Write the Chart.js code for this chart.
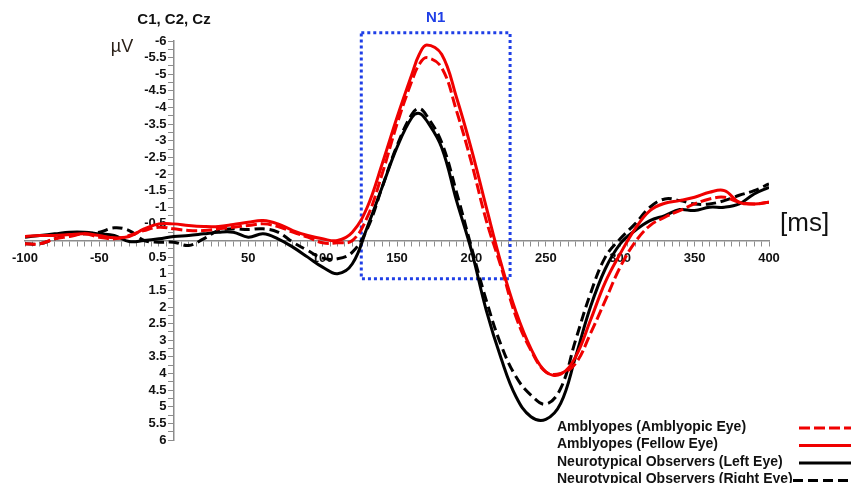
<!DOCTYPE html>
<html>
<head>
<meta charset="utf-8">
<script src="https://cdn.jsdelivr.net/npm/chart.js@4.4.1/dist/chart.umd.min.js"></script>
<style>
  html, body { margin: 0; padding: 0; background: #fff; overflow: hidden; }
</style>
</head>
<body>
<canvas id="erp" width="851" height="483"></canvas>
<script>
// time axis in ms (extra point at 165 for the N1 peak)
const times = [
  -100, -90, -80, -70, -60, -50, -40, -30, -20, -10,
  0, 10, 20, 30, 40, 50, 60, 70, 80, 90,
  100, 110, 120, 130, 140, 150, 160, 165, 170, 180, 190,
  200, 210, 220, 230, 240, 250, 260, 270, 280, 290,
  300, 310, 320, 330, 340, 350, 360, 370, 380, 390, 400
];

// amplitudes in µV (negative plotted up)
const amblyopicEye = [
  0.1, 0.1, -0.05, -0.12, -0.2, -0.1, -0.05, -0.15, -0.3, -0.4,
  -0.35, -0.3, -0.3, -0.35, -0.4, -0.45, -0.5, -0.42, -0.25, -0.1,
  0.07, 0.07, 0.0, -0.7, -2.0, -3.5, -4.8, -5.3, -5.5, -5.2, -3.9,
  -2.35, -0.6, 0.8, 2.3, 3.3, 3.95, 4.0, 3.7, 2.8, 1.8,
  0.8, 0.05, -0.45, -0.7, -0.9, -1.1, -1.25, -1.3, -1.15, -1.1, -1.15
];
const fellowEye = [
  -0.12, -0.15, -0.15, -0.18, -0.2, -0.15, -0.08, -0.12, -0.35, -0.5,
  -0.5, -0.45, -0.42, -0.42, -0.48, -0.55, -0.6, -0.5, -0.3, -0.15,
  -0.05, 0.0, -0.25, -1.0, -2.3, -3.7, -5.0, -5.6, -5.88, -5.6, -4.3,
  -2.75, -1.0, 0.7, 2.15, 3.25, 3.95, 4.02, 3.5, 2.4, 1.25,
  0.4, -0.35, -0.9, -1.12, -1.2, -1.3, -1.45, -1.5, -1.15, -1.1, -1.15
];
const leftEye = [
  -0.1, -0.15, -0.2, -0.25, -0.25, -0.2, -0.15, 0.03, 0.0, -0.05,
  -0.12, -0.15, -0.2, -0.25, -0.25, -0.1, -0.2, -0.05, 0.2, 0.5,
  0.8, 1.0, 0.7, -0.4, -1.6, -2.8, -3.7, -3.82, -3.6, -2.8, -1.2,
  0.3, 2.1, 3.55, 4.7, 5.3, 5.38, 4.9, 3.5, 2.0, 0.85,
  0.1, -0.3, -0.6, -0.75, -0.93, -0.9, -1.0, -1.0, -1.1, -1.4, -1.6
];
const rightEye = [
  0.1, 0.1, -0.05, -0.2, -0.2, -0.25, -0.38, -0.3, 0.0, 0.05,
  0.05, 0.15, -0.05, -0.3, -0.35, -0.33, -0.35, -0.25, 0.05, 0.3,
  0.53, 0.55, 0.35, -0.35, -1.6, -2.85, -3.8, -3.97, -3.75, -2.95, -1.45,
  0.2, 1.8, 3.15, 4.1, 4.65, 4.92, 4.45, 3.0, 1.6, 0.5,
  -0.05, -0.5, -1.0, -1.25, -1.2, -1.1, -1.1, -1.2, -1.36, -1.5, -1.7
];

const seriesLabels = [
  'Amblyopes (Amblyopic Eye)',
  'Amblyopes (Fellow Eye)',
  'Neurotypical Observers (Left Eye)',
  'Neurotypical Observers (Right Eye)'
];

// N1 window (ms) and amplitude span (µV) of the dotted box
const n1Window = [126, 226];
const n1Span = [-6.25, 1.15];

const FONT = "'Liberation Sans', Arial, Helvetica, sans-serif";
const RED = '#f00000';

const toPoints = vals => vals.map((v, i) => ({ x: times[i], y: v }));

const lineDs = (label, vals, color, dash) => ({
  label,
  data: toPoints(vals),
  borderColor: color,
  borderWidth: 3,
  borderDash: dash,
  pointRadius: 0,
  tension: 0.4,
  fill: false
});

const overlay = {
  id: 'overlay',
  beforeDatasetsDraw(chart) {
    const { ctx, scales: { x, y } } = chart;
    const l = x.getPixelForValue(n1Window[0]), r = x.getPixelForValue(n1Window[1]);
    const t = y.getPixelForValue(n1Span[0]), b = y.getPixelForValue(n1Span[1]);
    ctx.save();
    ctx.strokeStyle = '#1f3fe6';
    ctx.lineWidth = 3;
    ctx.setLineDash([3, 3]);
    ctx.strokeRect(l, t, r - l, b - t);
    ctx.restore();
  },
  afterDraw(chart) {
    const { ctx, scales: { x } } = chart;
    ctx.save();
    ctx.textBaseline = 'middle';

    ctx.fillStyle = '#111';
    ctx.textAlign = 'center';
    ctx.font = 'bold 15px ' + FONT;
    ctx.fillText('C1, C2, Cz', 174, 20);

    ctx.fillStyle = '#1f3fe6';
    ctx.fillText('N1', x.getPixelForValue((n1Window[0] + n1Window[1]) / 2), 18);

    ctx.fillStyle = '#2a2018';
    ctx.font = '18px ' + FONT;
    ctx.fillText('µV', 122, 47);

    ctx.fillStyle = '#111';
    ctx.textAlign = 'left';
    ctx.font = '26px ' + FONT;
    ctx.fillText('[ms]', 780, 224);

    // legend, bottom right
    ctx.font = 'bold 14px ' + FONT;
    chart.data.datasets.forEach((ds, i) => {
      const yy = 427 + i * 17.5;
      ctx.fillStyle = '#111';
      ctx.fillText(ds.label, 557, yy);
      ctx.strokeStyle = ds.borderColor;
      ctx.lineWidth = 3;
      ctx.setLineDash(ds.borderDash || []);
      ctx.beginPath();
      ctx.moveTo(i === 3 ? 793 : 799, yy + 1);
      ctx.lineTo(851, yy + 1);
      ctx.stroke();
    });
    ctx.restore();
  }
};

new Chart(document.getElementById('erp'), {
  type: 'line',
  data: {
    datasets: [
      lineDs(seriesLabels[0], amblyopicEye, RED, [11, 4]),
      lineDs(seriesLabels[1], fellowEye, RED, []),
      lineDs(seriesLabels[2], leftEye, '#000', []),
      lineDs(seriesLabels[3], rightEye, '#000', [10, 5])
    ]
  },
  options: {
    responsive: false,
    animation: false,
    layout: { padding: { left: 25, right: 82, top: 41, bottom: 43 } },
    plugins: { legend: { display: false }, tooltip: { enabled: false } },
    scales: {
      x: {
        type: 'linear',
        min: -100,
        max: 400,
        position: { y: 0 },
        ticks: {
          stepSize: 5,
          autoSkip: false,
          maxRotation: 0,
          padding: 5,
          color: '#111',
          font: { family: FONT, size: 13, weight: 'bold' },
          callback: v => (v % 50 === 0 && v !== 0) ? String(v) : ''
        },
        grid: { drawOnChartArea: false, drawTicks: true, tickLength: 5, color: '#8c8c8c', lineWidth: 1 },
        border: { display: true, color: '#8c8c8c', width: 1.5 }
      },
      y: {
        type: 'linear',
        min: -6,
        max: 6,
        reverse: true,
        position: { x: 0 },
        ticks: {
          stepSize: 0.25,
          autoSkip: false,
          color: '#111',
          font: { family: FONT, size: 13, weight: 'bold' },
          // centred axes draw labels flush against the line, so pad with spaces
          callback: v => {
            const h = Math.round(v * 4) / 4;
            return (Math.abs(h * 2 - Math.round(h * 2)) < 1e-9 && h !== 0) ? String(h) + '  ' : '';
          }
        },
        grid: { drawOnChartArea: false, drawTicks: true, tickLength: 5, color: '#8c8c8c', lineWidth: 1 },
        border: { display: true, color: '#8c8c8c', width: 1.5 }
      }
    }
  },
  plugins: [overlay]
});
</script>
</body>
</html>
